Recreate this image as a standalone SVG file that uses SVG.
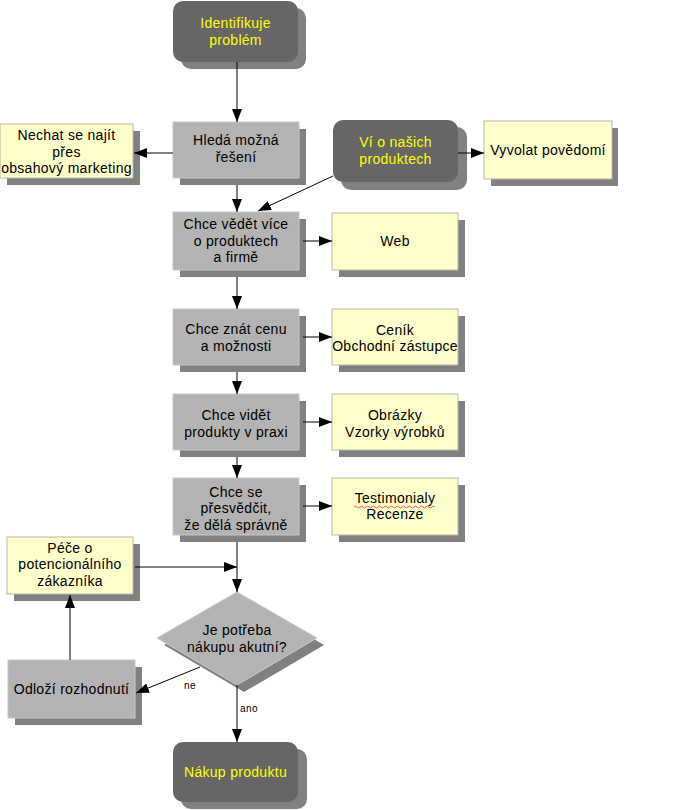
<svg xmlns="http://www.w3.org/2000/svg" width="696" height="810" viewBox="0 0 696 810">
<defs>
<style>
.sh{fill:#808080}
.dk{fill:#666666}
.gr{fill:#b3b3b3;stroke:#c8c8c8;stroke-width:1}
.ye{fill:#ffffcc;stroke:#b8b8a0;stroke-width:1}
text{font-family:"Liberation Sans",Arial,sans-serif;font-size:14px;fill:#000;text-anchor:middle;letter-spacing:0.3px}
.yt{fill:#ffff00}
.sm{font-size:10px;text-anchor:start;letter-spacing:0.5px}
.cn line{stroke:#000;stroke-width:1;marker-end:url(#ah)}
</style>
<marker id="ah" markerUnits="userSpaceOnUse" markerWidth="13" markerHeight="10" refX="13" refY="5" orient="auto">
<path d="M0,0 L13,5 L0,10 z" fill="#000"/>
</marker>
</defs>
<rect width="696" height="810" fill="#fff"/>

<g id="identify">
<rect class="sh" x="181" y="8" width="125" height="61" rx="10"/>
<rect class="dk" x="173" y="1" width="125" height="61" rx="10"/>
<text class="yt" x="235.5" y="28">Identifikuje</text>
<text class="yt" x="235.5" y="45">problém</text>
</g>

<g id="hleda">
<rect class="sh" x="180" y="129" width="126" height="56"/>
<rect class="gr" x="173" y="122" width="126" height="56"/>
<text x="236" y="145">Hledá možná</text>
<text x="236" y="162">řešení</text>
</g>

<g id="nechat">
<rect class="sh" x="7" y="131" width="133" height="54"/>
<rect class="ye" x="0" y="124" width="133" height="54"/>
<text x="66.5" y="140">Nechat se najít</text>
<text x="66.5" y="157">přes</text>
<text x="66.5" y="173">obsahový marketing</text>
</g>

<g id="vi">
<rect class="sh" x="341" y="127" width="126" height="63" rx="10"/>
<rect class="dk" x="333" y="120" width="125" height="62" rx="10"/>
<text class="yt" x="395.5" y="147">Ví o našich</text>
<text class="yt" x="395.5" y="164">produktech</text>
</g>

<g id="vyvolat">
<rect class="sh" x="491" y="128" width="127" height="58"/>
<rect class="ye" x="484" y="121" width="128" height="58"/>
<text x="548" y="155">Vyvolat povědomí</text>
</g>

<g id="chce1">
<rect class="sh" x="180" y="219" width="126" height="58"/>
<rect class="gr" x="173" y="212" width="126" height="58"/>
<text x="236" y="229">Chce vědět více</text>
<text x="236" y="246">o produktech</text>
<text x="236" y="262">a firmě</text>
</g>

<g id="web">
<rect class="sh" x="339" y="220" width="126" height="57"/>
<rect class="ye" x="332" y="213" width="126" height="57"/>
<text x="395" y="246">Web</text>
</g>

<g id="chce2">
<rect class="sh" x="180" y="316" width="126" height="56"/>
<rect class="gr" x="173" y="309" width="126" height="56"/>
<text x="236" y="334">Chce znát cenu</text>
<text x="236" y="351">a možnosti</text>
</g>

<g id="cenik">
<rect class="sh" x="339" y="316" width="126" height="56"/>
<rect class="ye" x="332" y="309" width="126" height="56"/>
<text x="395" y="335">Ceník</text>
<text x="395" y="351">Obchodní zástupce</text>
</g>

<g id="chce3">
<rect class="sh" x="180" y="401" width="126" height="56"/>
<rect class="gr" x="173" y="394" width="126" height="56"/>
<text x="236" y="420">Chce vidět</text>
<text x="236" y="437">produkty v praxi</text>
</g>

<g id="obrazky">
<rect class="sh" x="339" y="401" width="126" height="56"/>
<rect class="ye" x="332" y="394" width="126" height="56"/>
<text x="395" y="420">Obrázky</text>
<text x="395" y="437">Vzorky výrobků</text>
</g>

<g id="chce4">
<rect class="sh" x="180" y="485" width="126" height="57"/>
<rect class="gr" x="173" y="478" width="126" height="57"/>
<text x="236" y="497">Chce se</text>
<text x="236" y="513">přesvědčit,</text>
<text x="236" y="530">že dělá správně</text>
</g>

<g id="testimonialy">
<rect class="sh" x="339" y="485" width="126" height="57"/>
<rect class="ye" x="332" y="478" width="126" height="57"/>
<text x="395" y="503">Testimonialy</text>
<text x="395" y="519">Recenze</text>
<path d="M354,507 q1.5,-2 3,0 t3,0 t3,0 t3,0 t3,0 t3,0 t3,0 t3,0 t3,0 t3,0 t3,0 t3,0 t3,0 t3,0 t3,0 t3,0 t3,0 t3,0 t3,0 t3,0 t3,0 t3,0 t3,0 t3,0 t3,0 t3,0 t3,0" fill="none" stroke="#e03030" stroke-width="0.8"/>
</g>

<g id="pece">
<rect class="sh" x="14" y="544" width="126" height="57"/>
<rect class="ye" x="7" y="537" width="126" height="57"/>
<text x="70" y="553">Péče o</text>
<text x="70" y="569">potencionálního</text>
<text x="70" y="586">zákazníka</text>
</g>

<g id="decision">
<polygon class="sh" points="244,599 324,645 244,692 164,645"/>
<polygon class="gr" points="237,592 317,638 237,685 157,638"/>
<text x="237" y="635">Je potřeba</text>
<text x="237" y="652">nákupu akutní?</text>
</g>

<g id="odlozi">
<rect class="sh" x="15" y="667" width="127" height="58"/>
<rect class="gr" x="8" y="660" width="127" height="58"/>
<text x="71.5" y="694">Odloží rozhodnutí</text>
</g>

<g id="nakup">
<rect class="sh" x="181" y="749" width="126" height="60" rx="10"/>
<rect class="dk" x="173" y="742" width="125" height="60" rx="10"/>
<text class="yt" x="235.5" y="777">Nákup produktu</text>
</g>

<g id="connectors" class="cn">
<line x1="237" y1="62" x2="237" y2="122"/>
<line x1="173" y1="153" x2="134" y2="153"/>
<line x1="237" y1="185" x2="237" y2="212"/>
<line x1="333" y1="176" x2="258" y2="211"/>
<line x1="458" y1="153" x2="484" y2="153"/>
<line x1="303" y1="241" x2="332" y2="241"/>
<line x1="237" y1="277" x2="237" y2="309"/>
<line x1="303" y1="337" x2="332" y2="337"/>
<line x1="237" y1="372" x2="237" y2="394"/>
<line x1="303" y1="422" x2="332" y2="422"/>
<line x1="237" y1="457" x2="237" y2="478"/>
<line x1="303" y1="506" x2="332" y2="506"/>
<line x1="237" y1="542" x2="237" y2="592"/>
<line x1="135" y1="567" x2="237" y2="567"/>
<line x1="200" y1="667" x2="136" y2="693"/>
<line x1="70" y1="660" x2="70" y2="595"/>
<line x1="237" y1="685" x2="237" y2="742"/>
<text class="sm" x="184" y="689">ne</text>
<text class="sm" x="240" y="712">ano</text>
</g>
</svg>
